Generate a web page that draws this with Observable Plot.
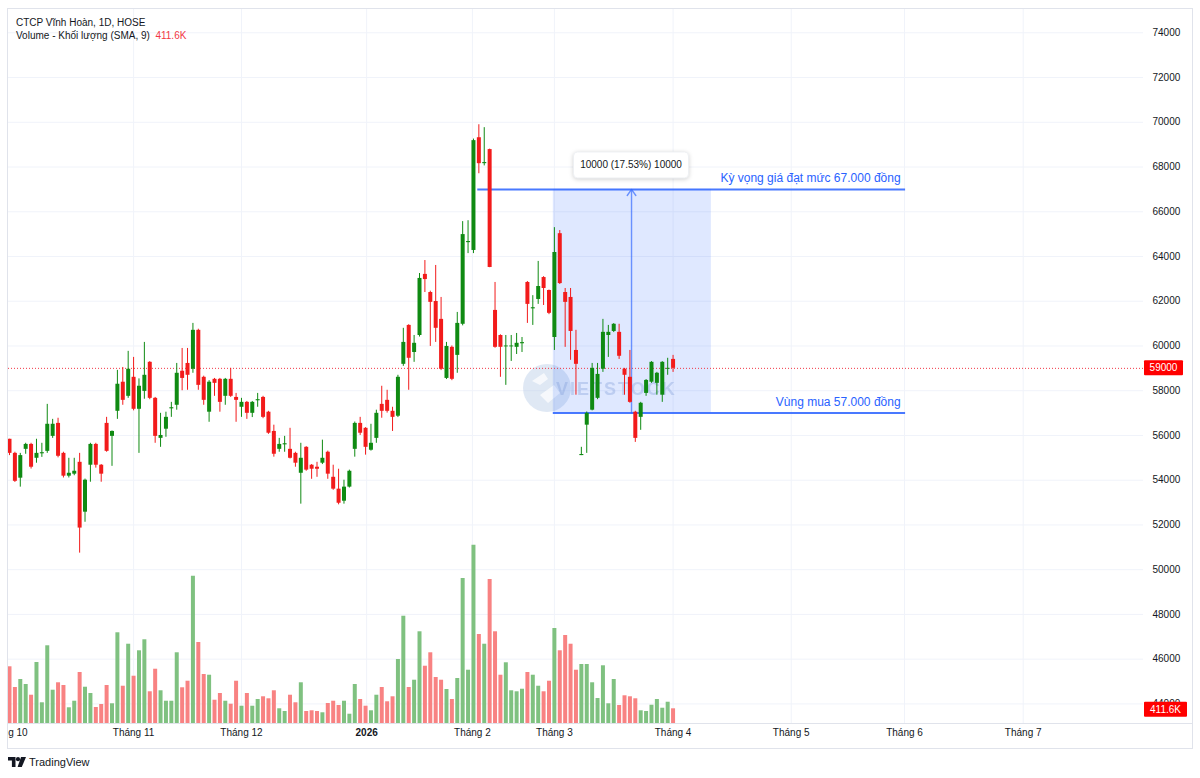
<!DOCTYPE html>
<html>
<head>
<meta charset="utf-8">
<script src="https://cdn.jsdelivr.net/npm/d3@7"></script>
<script src="https://cdn.jsdelivr.net/npm/@observablehq/plot@0.6"></script>
<style>
  html, body { margin: 0; padding: 0; background: #ffffff; }
  body { font-family: "Liberation Sans", Arial, sans-serif; color: #131722; }
  #frame { position: absolute; left: 7px; top: 8px; width: 1184px; height: 739px; border: 1px solid #e0e3eb; overflow: hidden; }
  #frame > svg { position: absolute; left: 0; top: 0; }
  #legend { position: absolute; left: 16px; top: 15.5px; font-size: 10px; line-height: 13.5px; color: #131722; z-index: 10; white-space: nowrap; }
  #tv { position: absolute; left: 8px; top: 756px; font-size: 11px; color: #131722; display: flex; align-items: center; gap: 3px; }
</style>
</head>
<body>
<div id="frame"></div>
<div id="legend">
  <div>CTCP Vĩnh Hoàn, 1D, HOSE</div>
  <div>Volume - Khối lượng (SMA, 9)&nbsp; <span style="color:#f23645">411.6K</span></div>
</div>
<div id="tv">
  <svg width="18" height="10" viewBox="0 0 18 10"><path d="M0 0h7.5v10h-3.6v-6.4H0z" fill="#131722"/><circle cx="10" cy="2.2" r="2.1" fill="#131722"/><path d="M13 0h5l-4.2 10H9.6z" fill="#131722"/></svg>
  <span>TradingView</span>
</div>
<script>
// ---------- DATA ----------
const opens = [55830,55200,54090,55380,55600,54980,55180,55290,55960,56540,
  55200,54180,54270,54800,52570,54670,55600,54670,56540,55960,
  57080,58380,57750,58600,57170,57970,59270,57660,55870,56280,
  57190,57350,58870,59220,58960,60700,58600,57040,58510,58510,
  57750,58510,57700,57260,57480,56990,57550,57700,57040,56180,
  55380,55580,55380,55200,54310,55470,54670,54580,54760,55250,
  54130,53600,53060,53690,55380,56540,56320,55340,55870,57390,
  57570,57080,56860,59180,60920,59710,60470,63200,62390,61990,
  61190,58550,59940,59580,60970,64620,64270,69310,68150,68780,
  61590,60470,59960,59960,59940,60100,62840,61660,62080,63060,
  62480,60380,65020,62390,62170,59800,55100,56460,57130,57660,
  58960,60470,60650,60610,58960,58600,57040,56810,57880,58380,
  58330,57800,58960,59400];
const highs = [55830,55250,55200,55650,55650,55830,55650,57390,56720,56770,
  55250,54980,54980,55200,54050,55650,55650,54700,56810,56200,
  58910,59040,59760,59490,58530,60160,59300,57700,56990,57040,
  57480,59220,59890,59890,61010,60750,58650,58450,58550,58550,
  58550,59000,57880,57660,57520,57520,57880,57750,57080,56460,
  55870,55960,56320,55250,55650,55500,54700,54800,55790,55300,
  54670,54490,54000,54450,56600,56810,56350,56500,57130,58200,
  58020,57260,58690,60790,60950,60470,63240,63820,62450,63600,
  62170,60160,60000,61500,65560,65600,69250,69890,69760,68800,
  62840,60500,60470,60470,60560,60380,62880,62250,63780,63100,
  62500,65290,65160,62570,62570,60700,55470,57050,59220,59220,
  61190,60920,61000,60970,59000,59800,57080,57480,58500,59300,
  58820,59300,59450,59580];
const lows = [55100,53900,53690,55160,54500,54760,55020,55200,55870,55000,
  54100,54100,54200,50740,52120,53910,54540,53910,55250,54620,
  56720,57350,57660,57100,55200,57620,57600,55650,55470,55920,
  56810,57130,58000,58020,58780,58020,57350,56590,57750,57040,
  57350,57700,56590,56810,56720,56800,57260,56750,56050,55030,
  55250,55250,54950,54580,52930,54400,54040,54130,54700,54040,
  53550,52900,52930,53650,55030,56000,55120,55300,55650,56770,
  57000,56180,56800,59090,58020,59270,60400,62390,59980,60160,
  58900,58500,58450,58780,60900,64130,64130,67700,68050,63500,
  59900,58600,58240,59310,59620,59710,61010,60920,61860,61810,
  61400,59800,62750,59940,59360,57800,55100,55200,57100,57600,
  58820,59490,60600,59400,57800,57440,55690,56230,57750,58330,
  57800,57480,58690,58820];
const closes = [55200,53950,55100,55600,54580,55200,55230,56500,56500,55070,
  54180,54310,54400,51860,54000,55600,54670,54270,55290,56180,
  58290,57570,58960,57170,58200,58690,57660,55960,56000,56810,
  57240,58780,58550,58690,60700,58240,57570,58380,58330,57480,
  58510,57750,57570,57480,56990,57480,57600,56810,56100,55160,
  55600,55630,54980,54760,54980,54450,54490,54490,54980,54270,
  53600,52970,53690,54400,56540,56100,55470,55650,56990,57080,
  57080,56810,58600,60160,59450,60120,63020,62970,61950,60790,
  58960,59980,58510,61010,64980,64670,69180,68150,68200,63510,
  59940,59940,60000,60000,60120,60150,61860,61710,62660,62570,
  61460,64180,62790,61950,60650,59180,55150,56990,59000,58730,
  60610,60610,60970,59540,58690,57480,55870,57440,58460,59270,
  58780,59270,59000,59000];
// volume in thousands of shares
const volumes = [1588,1008,1232,1092,792,1708,580,2176,932,1140,
  1064,440,624,1428,1016,840,448,532,1064,552,
  2540,1044,2220,1324,2036,2344,888,1520,916,624,
  624,1980,1000,1184,4124,2268,1372,1352,652,840,
  624,540,1184,484,840,484,672,748,692,916,
  412,336,792,580,1140,336,356,336,300,560,
  624,504,624,260,1092,672,484,356,792,1008,
  608,748,1792,3004,1008,1212,2568,1604,1980,1288,
  1212,952,672,1260,4060,1492,4992,2492,2220,4032,
  2568,1352,1700,916,888,960,1428,1352,1044,888,
  1184,2660,2036,2464,2220,1492,1652,1652,1140,700,
  1616,552,1232,504,776,748,692,356,336,512,
  672,428,596,411.6];

const monthTickIdx = [-0.56, 23, 43, 66.2, 85.8, 101, 123, 144.9, 165.9, 187.9];
const monthTickLabels = ["Tháng 10","Tháng 11","Tháng 12","2026","Tháng 2","Tháng 3","Tháng 4","Tháng 5","Tháng 6","Tháng 7"];
const monthTickBold = [false,false,false,true,false,false,false,false,false,false];
const priceTicks = [44000,46000,48000,50000,52000,54000,56000,58000,60000,62000,64000,66000,68000,70000,72000,74000];

const lastPrice = 59000;
const lastVolumeLabel = "411.6K";
const targetPrice = 67000;
const buyPrice = 57000;
const targetLineIdx = [86.8, 166.1];
const buyLineIdx = [100.8, 166.1];
const zoneIdx = [100.8, 130.1];
const measureIdx = 115.3;
const measureLabel = "10000 (17.53%) 10000";
const measureLabelPrice = 68070;
const targetText = "Kỳ vọng giá đạt mức 67.000 đồng";
const buyText = "Vùng mua 57.000 đồng";

// ---------- CHART ----------
const FONT = '"Liberation Sans", Arial, sans-serif';
const W = 1184, H = 739;
const xDomain = [-0.185, 210.2];
const priceDomain = [43124, 75042];
const volumeDomain = [0, 19992];
const GRID = "#f0f3fa", TXT = "#131722";
const UP = "#0f8a12", DN = "#f21b1b", VUP = "#7fc180", VDN = "#f88282";
const BLUE = "#2962ff";

const candles = opens.map((o, k) => ({
  i: k, open: o, high: highs[k], low: lows[k], close: closes[k], vol: volumes[k], up: closes[k] >= o
}));
const xTicks = monthTickIdx.map((v, k) => ({i: v, label: monthTickLabels[k], bold: monthTickBold[k]}));

const styleStr = `background:transparent;overflow:hidden;font-family:${FONT};font-size:10px;color:${TXT};position:absolute;left:0;top:0;`;
const common = {
  width: W, height: H, marginLeft: 0, marginRight: 49, marginTop: 0, marginBottom: 25,
  x: {domain: xDomain, axis: null, label: null},
  style: styleStr
};

const frame = document.getElementById("frame");

// Layer A: grid + time labels
const gridPlot = Plot.plot({
  ...common,
  y: {domain: priceDomain, axis: null, label: null},
  marks: [
    Plot.ruleY(priceTicks, {stroke: GRID}),
    Plot.ruleX(monthTickIdx, {stroke: GRID}),
    Plot.text(xTicks.filter(d => !d.bold), {x: "i", text: "label", frameAnchor: "bottom", dy: 12, fill: TXT, fontSize: 10}),
    Plot.text(xTicks.filter(d => d.bold), {x: "i", text: "label", frameAnchor: "bottom", dy: 12, fill: TXT, fontSize: 10, fontWeight: "bold"})
  ]
});
d3.select(gridPlot).append("line")
  .attr("x1", 0).attr("x2", W).attr("y1", 714.5).attr("y2", 714.5)
  .attr("stroke", "#e0e3eb");
frame.appendChild(gridPlot);

// Layer B: volume
const volPlot = Plot.plot({
  ...common,
  y: {domain: volumeDomain, axis: null, label: null},
  marks: [
    Plot.ruleX(candles, {filter: d => d.up, x: "i", y1: 0, y2: "vol", stroke: VUP, strokeWidth: 4}),
    Plot.ruleX(candles, {filter: d => !d.up, x: "i", y1: 0, y2: "vol", stroke: VDN, strokeWidth: 4})
  ]
});
frame.appendChild(volPlot);

// Watermark layer
const wm = d3.create("svg").attr("width", W).attr("height", H)
  .style("position", "absolute").style("left", "0").style("top", "0");
wm.append("circle").attr("cx", 539).attr("cy", 379).attr("r", 24).attr("fill", "#b9cbe6").attr("opacity", 0.45);
wm.append("path").attr("d", "M524 372 l12 -8 l4 6 l-8 6 z M532 386 l14 -10 l6 8 l-12 10 z")
  .attr("fill", "#ffffff").attr("opacity", 0.7);
wm.append("text").attr("x", 548).attr("y", 386).attr("font-size", 18).attr("font-weight", "bold")
  .attr("letter-spacing", 2).attr("font-family", FONT).attr("fill", "#8fa7d2").attr("opacity", 0.35).text("VIETSTOCK");
frame.appendChild(wm.node());

// Layer C: price, annotations, axis
const pricePlot = Plot.plot({
  ...common,
  y: {domain: priceDomain, label: null},
  marks: [
    Plot.rect([{x1: zoneIdx[0], x2: zoneIdx[1], y1: buyPrice, y2: targetPrice}], {x1: "x1", x2: "x2", y1: "y1", y2: "y2", fill: BLUE, fillOpacity: 0.15}),
    Plot.ruleY([lastPrice], {stroke: "#f23645", strokeDasharray: "1,2", strokeWidth: 1}),
    Plot.ruleY([targetPrice], {x1: targetLineIdx[0], x2: targetLineIdx[1], stroke: BLUE, strokeWidth: 2, strokeOpacity: 0.85}),
    Plot.ruleY([buyPrice], {x1: buyLineIdx[0], x2: buyLineIdx[1], stroke: BLUE, strokeWidth: 2, strokeOpacity: 0.85}),
    Plot.arrow([{x: measureIdx, a: buyPrice, b: targetPrice}], {x1: "x", x2: "x", y1: "a", y2: "b", stroke: BLUE, strokeOpacity: 0.65, strokeWidth: 1.4, headLength: 8, headAngle: 70}),
    Plot.text([targetText], {x: targetLineIdx[1], y: targetPrice, text: d => d, textAnchor: "end", dx: -5, dy: -11, fill: BLUE, fontSize: 12}),
    Plot.text([buyText], {x: buyLineIdx[1], y: buyPrice, text: d => d, textAnchor: "end", dx: -5, dy: -11, fill: BLUE, fontSize: 12}),
    // wicks
    Plot.ruleX(candles, {filter: d => d.up, x: "i", y1: "low", y2: "high", stroke: UP, strokeWidth: 1}),
    Plot.ruleX(candles, {filter: d => !d.up, x: "i", y1: "low", y2: "high", stroke: DN, strokeWidth: 1}),
    // bodies
    Plot.ruleX(candles, {filter: d => d.up, x: "i", y1: "open", y2: "close", stroke: UP, strokeWidth: 4}),
    Plot.ruleX(candles, {filter: d => !d.up, x: "i", y1: "open", y2: "close", stroke: DN, strokeWidth: 4}),
    Plot.axisY(priceTicks, {anchor: "right", tickSize: 0, tickPadding: 9, textAnchor: "start", fill: TXT, fontSize: 10, label: null, tickFormat: d => String(d)})
  ]
});
frame.appendChild(pricePlot);

// label boxes placed with the plots' own scales
const sx = pricePlot.scale("x"), sy = pricePlot.scale("y"), svy = volPlot.scale("y");
const ps = d3.select(pricePlot);
// measurement label
const mx = sx.apply(measureIdx), my = sy.apply(measureLabelPrice);
ps.append("rect").attr("x", mx - 57.5).attr("y", my - 13).attr("width", 115).attr("height", 26)
  .attr("rx", 4).attr("fill", "#ffffff").attr("stroke", "#eef0f3")
  .style("filter", "drop-shadow(0px 1px 2px rgba(0,0,0,0.18))");
ps.append("text").attr("x", mx).attr("y", my).attr("dy", "0.35em").attr("text-anchor", "middle")
  .attr("font-size", 10).attr("fill", TXT).text(measureLabel);
// last price label
const py = sy.apply(lastPrice);
ps.append("rect").attr("x", 1136).attr("y", py - 7.5).attr("width", 39).attr("height", 15).attr("fill", "#ff0000").attr("rx", 1);
ps.append("text").attr("x", 1155.5).attr("y", py).attr("dy", "0.35em").attr("text-anchor", "middle")
  .attr("font-size", 10).attr("fill", "#ffffff").text(String(lastPrice));
// last volume label
const vy = svy.apply(volumes[volumes.length - 1]) + 1;
ps.append("rect").attr("x", 1136).attr("y", vy - 7.5).attr("width", 43).attr("height", 15).attr("fill", "#ff0000").attr("rx", 1);
ps.append("text").attr("x", 1157.5).attr("y", vy).attr("dy", "0.35em").attr("text-anchor", "middle")
  .attr("font-size", 10).attr("fill", "#ffffff").text(lastVolumeLabel);
</script>
</body>
</html>
